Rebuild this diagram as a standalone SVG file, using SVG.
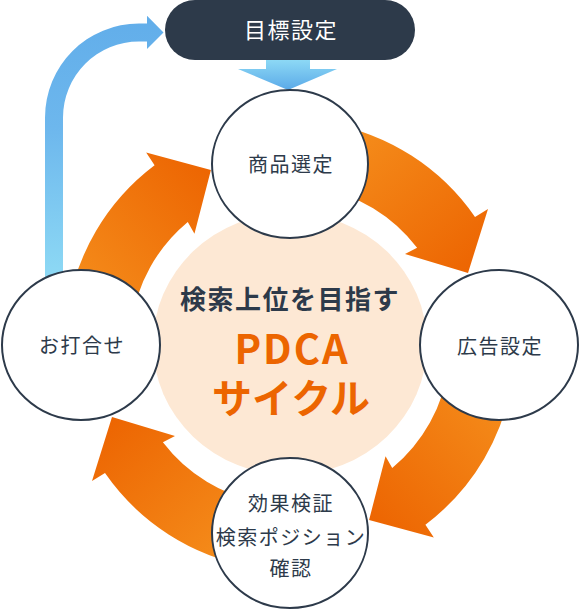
<svg xmlns="http://www.w3.org/2000/svg" width="580" height="610" viewBox="0 0 580 610">
<defs>
<linearGradient id="og" x1="0" y1="0" x2="1" y2="1">
<stop offset="0" stop-color="#f6931f"/>
<stop offset="1" stop-color="#ec6200"/>
</linearGradient>
<linearGradient id="bg1" gradientUnits="userSpaceOnUse" x1="0" y1="290" x2="0" y2="20">
<stop offset="0" stop-color="#90dcf5"/>
<stop offset="0.6" stop-color="#6db7ed"/>
<stop offset="1" stop-color="#62aeea"/>
</linearGradient>
<linearGradient id="bg2" gradientUnits="userSpaceOnUse" x1="0" y1="58" x2="0" y2="90">
<stop offset="0" stop-color="#90dcf6"/>
<stop offset="1" stop-color="#5aa9e8"/>
</linearGradient>
<path id="oarrow" d="M329.1,123.4 A225,225 0 0 1 475,216.9 L488,209 L468,273 L405,254 L417.1,247.8 A160,160 0 0 0 317.8,187.4 Z"/>
</defs>
<style>
.node ellipse{fill:#ffffff;stroke:#2d3a4a;stroke-width:2}
.lbl{font-family:"Noto Sans CJK JP","Noto Sans",sans-serif;font-size:20px;fill:#2d3a4a;text-anchor:middle;letter-spacing:1.5px}
.orange{fill:url(#og)}
.big{font-family:"Noto Sans CJK JP","Noto Sans",sans-serif;font-size:40px;font-weight:bold;fill:#ec6500;text-anchor:middle}
</style>
<g id="connectors">
<path d="M45,290 L45,117.5 A94,94 0 0 1 139,23.5 L147,23.5 L147,15.7 L163.5,32.5 L147,49 L147,41.5 L139,41.5 A76,76 0 0 0 63,117.5 L63,290 Z" fill="url(#bg1)"/>
<path d="M266,55 L310,55 L310,69 L337,69 L288,90 L238,69 L266,69 Z" fill="url(#bg2)"/>
<use href="#oarrow" class="orange"/>
<use href="#oarrow" class="orange" transform="rotate(87.7 290 345)"/>
<use href="#oarrow" class="orange" transform="rotate(180 290 345)"/>
<use href="#oarrow" class="orange" transform="rotate(267.7 290 345)"/>
</g>
<g id="center">
<ellipse cx="290" cy="344" rx="137" ry="131" fill="#fde8d4"/>
<text x="290" y="309" font-family="'Noto Sans CJK JP','Noto Sans',sans-serif" font-size="26" font-weight="bold" fill="#2d3a4a" text-anchor="middle" letter-spacing="1.5">検索上位を目指す</text>
<text class="big" x="292" y="364" letter-spacing="2">PDCA</text>
<text class="big" x="291" y="413">サイクル</text>
</g>
<g id="goal">
<rect x="165" y="0" width="250" height="60" rx="30" fill="#2d3a4a"/>
<text x="291" y="38" font-family="'Noto Sans CJK JP','Noto Sans',sans-serif" font-size="22" fill="#ffffff" text-anchor="middle" letter-spacing="1.5">目標設定</text>
</g>
<g id="node-select" class="node">
<ellipse cx="290" cy="164" rx="78" ry="74"/>
<text class="lbl" x="291" y="172">商品選定</text>
</g>
<g id="node-ad" class="node">
<ellipse cx="499" cy="345" rx="79" ry="75"/>
<text class="lbl" x="500" y="354">広告設定</text>
</g>
<g id="node-verify" class="node">
<ellipse cx="290" cy="533" rx="78" ry="75"/>
<text class="lbl" x="291" y="511">効果検証</text>
<text class="lbl" x="291" y="545">検索ポジション</text>
<text class="lbl" x="291" y="576">確認</text>
</g>
<g id="node-meeting" class="node">
<ellipse cx="81" cy="345" rx="79" ry="75"/>
<text class="lbl" x="82" y="353">お打合せ</text>
</g>
</svg>
